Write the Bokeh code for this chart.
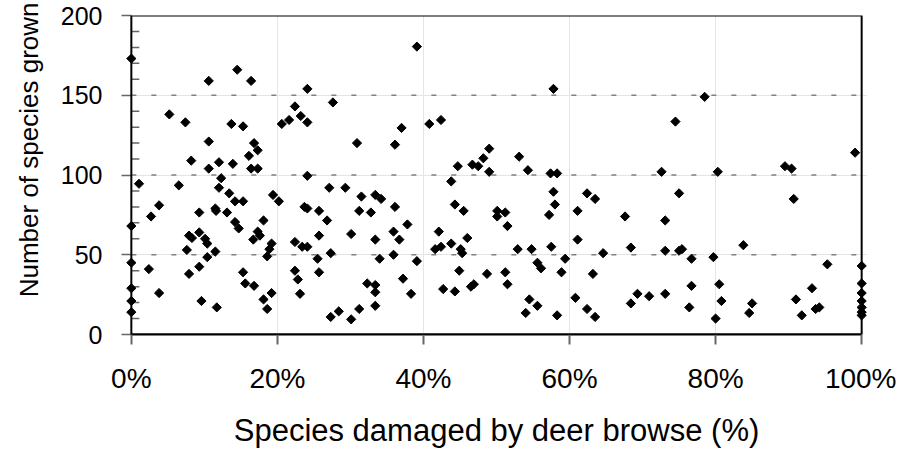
import math
from bokeh.plotting import figure
from bokeh.models import (FixedTicker, PrintfTickFormatter, Range1d, ColumnDataSource,
                          LinearAxis, BoxAnnotation, Title)
from bokeh.embed import file_html
from bokeh.resources import INLINE

# Species damaged by deer browse (%)
damaged_pct = [
    0, 0, 0, 0, 0, 0,
    1.05, 2.7, 3.8, 2.4, 3.8, 5.2, 6.5, 7.4, 8.2, 7.6, 7.9, 8.3, 7.9, 9.3,
    9.3, 9.3, 9.6, 10.1, 10.4, 10.4, 10.6, 10.6, 10.6, 11.5, 11.5, 11.6, 11.7, 12.0,
    12.3, 12.0, 13.1, 13.4, 13.7, 13.9, 14.2, 14.2, 14.7, 14.5, 15.3, 15.3, 15.3, 15.6,
    16.4, 16.1, 16.4, 16.8, 17.3, 17.3, 16.8, 18.1, 17.3, 17.6, 16.7,
    19.2, 18.9, 18.6, 18.1, 18.6, 19.2, 19.4, 20.2, 20.6, 21.6, 22.4, 23.2, 24.1, 24.1,
    24.1, 23.7, 24.1, 25.7, 26.8, 22.4, 23.4, 24.1, 25.7, 25.5, 22.4, 22.8, 23.1, 25.7,
    27.3, 27.1, 27.6, 27.3, 28.4, 30.1, 31.2, 33.4, 29.3, 30.1, 30.9, 31.5, 31.2, 32.8,
    33.4, 34.2, 33.4, 34.0, 32.3, 33.4, 33.4, 36.1, 36.1, 37.0, 35.9, 36.7, 35.9, 37.8,
    37.2, 38.3, 39.1, 39.1, 40.8, 42.4, 42.1, 41.6, 42.4, 43.8, 42.7, 44.3, 43.8, 44.3,
    44.7, 45.5, 45.1, 45.3, 46.0, 44.9, 46.7, 47.5, 48.2, 49.0, 49.0, 46.5, 46.9, 48.7,
    50.1, 51.2, 50.1, 51.5, 51.2, 51.5, 53.1, 54.3, 52.9, 54.8, 55.6, 56.1, 54.5, 55.6,
    54.0, 57.4, 58.3, 57.8, 57.8, 58.0, 57.2, 57.5, 59.4, 58.9, 58.3, 61.1, 62.4, 63.5,
    61.1, 60.8, 62.4, 63.5, 63.2, 64.6, 67.6, 68.4, 68.4, 69.3, 70.9,
    72.6, 73.1, 73.1, 73.1, 74.5, 75.0, 75.0, 75.4, 76.7, 76.7, 76.4, 78.5, 80.3, 79.7,
    80.5, 80.8, 80.0, 83.8, 85.0, 84.6, 89.5, 90.4, 90.7, 91.0, 91.8, 93.2, 93.7, 94.2,
    95.3, 99.1,
    100, 100, 100, 100, 100, 100, 100,
]

# Number of species grown
species_grown = [
    173, 68, 45, 29, 21, 14,
    94.5, 74, 81, 41, 26, 138, 93.5, 133, 109, 53, 62, 60.5, 38, 76.5,
    64, 42.5, 21, 60, 57, 48.5, 159, 121, 104, 52, 79, 77.5, 17, 108,
    98, 92, 76.5, 88.5, 132, 107, 83.5, 70.5, 66.5, 166, 130.5, 83.5, 39, 32,
    159, 112, 104, 120, 115.5, 104, 30.5, 71.5, 64.5, 62, 59.5,
    57, 53.5, 49, 22, 16, 26, 87.5, 83.5, 132, 134.5, 143, 137, 133, 154,
    99.5, 80, 79, 77.5, 71.5, 58, 55, 55, 62, 47.5, 40, 34.5, 25.5, 39,
    51, 92, 145.5, 11, 14.5, 9.5, 16, 18, 92, 63, 120, 86.5, 77.5, 76.5,
    87.5, 85, 59.5, 47.5, 32, 31, 26.5, 80, 119, 129.5, 64.5, 59.5, 50, 69,
    35, 25.5, 46, 180.5, 132, 134.5, 64.5, 53.5, 55, 57, 28.5, 27, 96, 81.5,
    105.5, 77.5, 53.5, 51, 60.5, 40, 106.5, 105.5, 110.5, 116.5, 102, 30, 31.5, 38,
    77.5, 76.5, 74, 68, 39, 31.5, 111.5, 103, 53.5, 53.5, 45, 41.5, 22, 18,
    13.5, 101, 101, 154, 89.5, 81.5, 75, 55, 47.5, 39, 12, 77.5, 88.5, 85,
    59.5, 23, 16, 11, 38, 51, 74, 54.5, 19.5, 25.5, 24,
    102, 71.5, 52.5, 25.5, 133.5, 88.5, 52.5, 53.5, 47.5, 30.5, 17, 149, 102, 48.5,
    31.5, 21, 10, 56, 19.5, 13.5, 105.5, 104, 85, 22, 12, 29, 16, 17,
    44, 114,
    43, 32, 26, 21, 17, 14, 12,
]

x_ticks = [0, 20, 40, 60, 80, 100]
y_ticks = [0, 50, 100, 150, 200]
y_minor_ticks = [v for v in range(0, 201, 10) if v not in y_ticks]
grid_levels = [50, 100, 150]

X_MIN, X_MAX = 0, 100
Y_MIN, Y_MAX = 0, 200
PAD = 0.8            # range padding (data units) so edge markers are not clipped
PX_PER_UNIT = 7.3    # approx. pixels per x unit in this layout
MINOR_LEN = 8 / PX_PER_UNIT
PAD_PX = PAD * PX_PER_UNIT

FONT = "Liberation Sans"
GREY = "#666666"

p = figure(
    width=896, height=450,
    output_backend="svg", toolbar_location=None,
    x_range=Range1d(X_MIN - PAD, X_MAX + PAD), y_range=Range1d(Y_MIN, Y_MAX),
    x_axis_location=None, y_axis_location=None,
    min_border_left=125, min_border_right=29, min_border_top=15, min_border_bottom=108,
    background_fill_color="white", border_fill_color="white",
)
p.outline_line_color = None

# x axis
xa = LinearAxis(bounds=(X_MIN, X_MAX))
xa.ticker = FixedTicker(ticks=x_ticks, minor_ticks=[])
xa.formatter = PrintfTickFormatter(format="%d%%")
xa.axis_label = "Species damaged by deer browse (%)"
xa.axis_label_text_font = FONT
xa.axis_label_text_font_size = "31px"
xa.axis_label_text_font_style = "normal"
xa.axis_label_text_color = "black"
xa.axis_label_standoff = 16
xa.major_label_text_font = FONT
xa.major_label_text_font_size = "28px"
xa.major_label_text_color = "black"
xa.major_label_standoff = 18
xa.axis_line_color = "black"
xa.axis_line_width = 2
xa.major_tick_in = 0
xa.major_tick_out = 10
xa.major_tick_line_color = GREY
xa.major_tick_line_width = 2
xa.minor_tick_in = 0
xa.minor_tick_out = 0
p.add_layout(xa, "below")

# y axis at the frame edge; its visible line is the border box at x = 0
ya = LinearAxis()
ya.ticker = FixedTicker(ticks=y_ticks, minor_ticks=[])
ya.major_label_text_font = FONT
ya.major_label_text_font_size = "25px"
ya.major_label_text_color = "black"
ya.major_label_standoff = 19
ya.axis_line_color = None
ya.major_tick_in = round(PAD_PX)
ya.major_tick_out = 10 - round(PAD_PX)
ya.major_tick_line_color = GREY
ya.major_tick_line_width = 1.5
ya.minor_tick_in = 0
ya.minor_tick_out = 0
p.add_layout(ya, "left")

# y axis title, set toward the top as in the original
p.add_layout(Title(text="Number of species grown", align="right", offset=-13,
                   vertical_align="top", standoff=24,
                   text_font=FONT, text_font_size="26px", text_font_style="normal",
                   text_color="black"), "left")

# minor ticks on the inside of the y axis line
p.segment(x0=[X_MIN] * len(y_minor_ticks), x1=[X_MIN + MINOR_LEN] * len(y_minor_ticks),
          y0=y_minor_ticks, y1=y_minor_ticks, line_color=GREY, line_width=1.5)

# dashed horizontal grid lines, limited to the data box
p.segment(x0=[X_MIN] * len(grid_levels), x1=[X_MAX] * len(grid_levels),
          y0=grid_levels, y1=grid_levels,
          line_color="#808080", line_dash="5 15", line_width=1.5)

# plot-area border (also serves as the y axis line)
p.add_layout(BoxAnnotation(left=X_MIN, right=X_MAX, bottom=Y_MIN, top=Y_MAX,
                           fill_color=None, fill_alpha=0,
                           line_color="black", line_alpha=1.0, line_width=2))

source = ColumnDataSource(dict(x=damaged_pct, y=species_grown))
p.scatter("x", "y", source=source, marker="square", size=6.5, angle=math.pi / 4,
          fill_color="black", line_color="black", line_width=1)

open("out.html", "w").write(file_html(p, INLINE))
